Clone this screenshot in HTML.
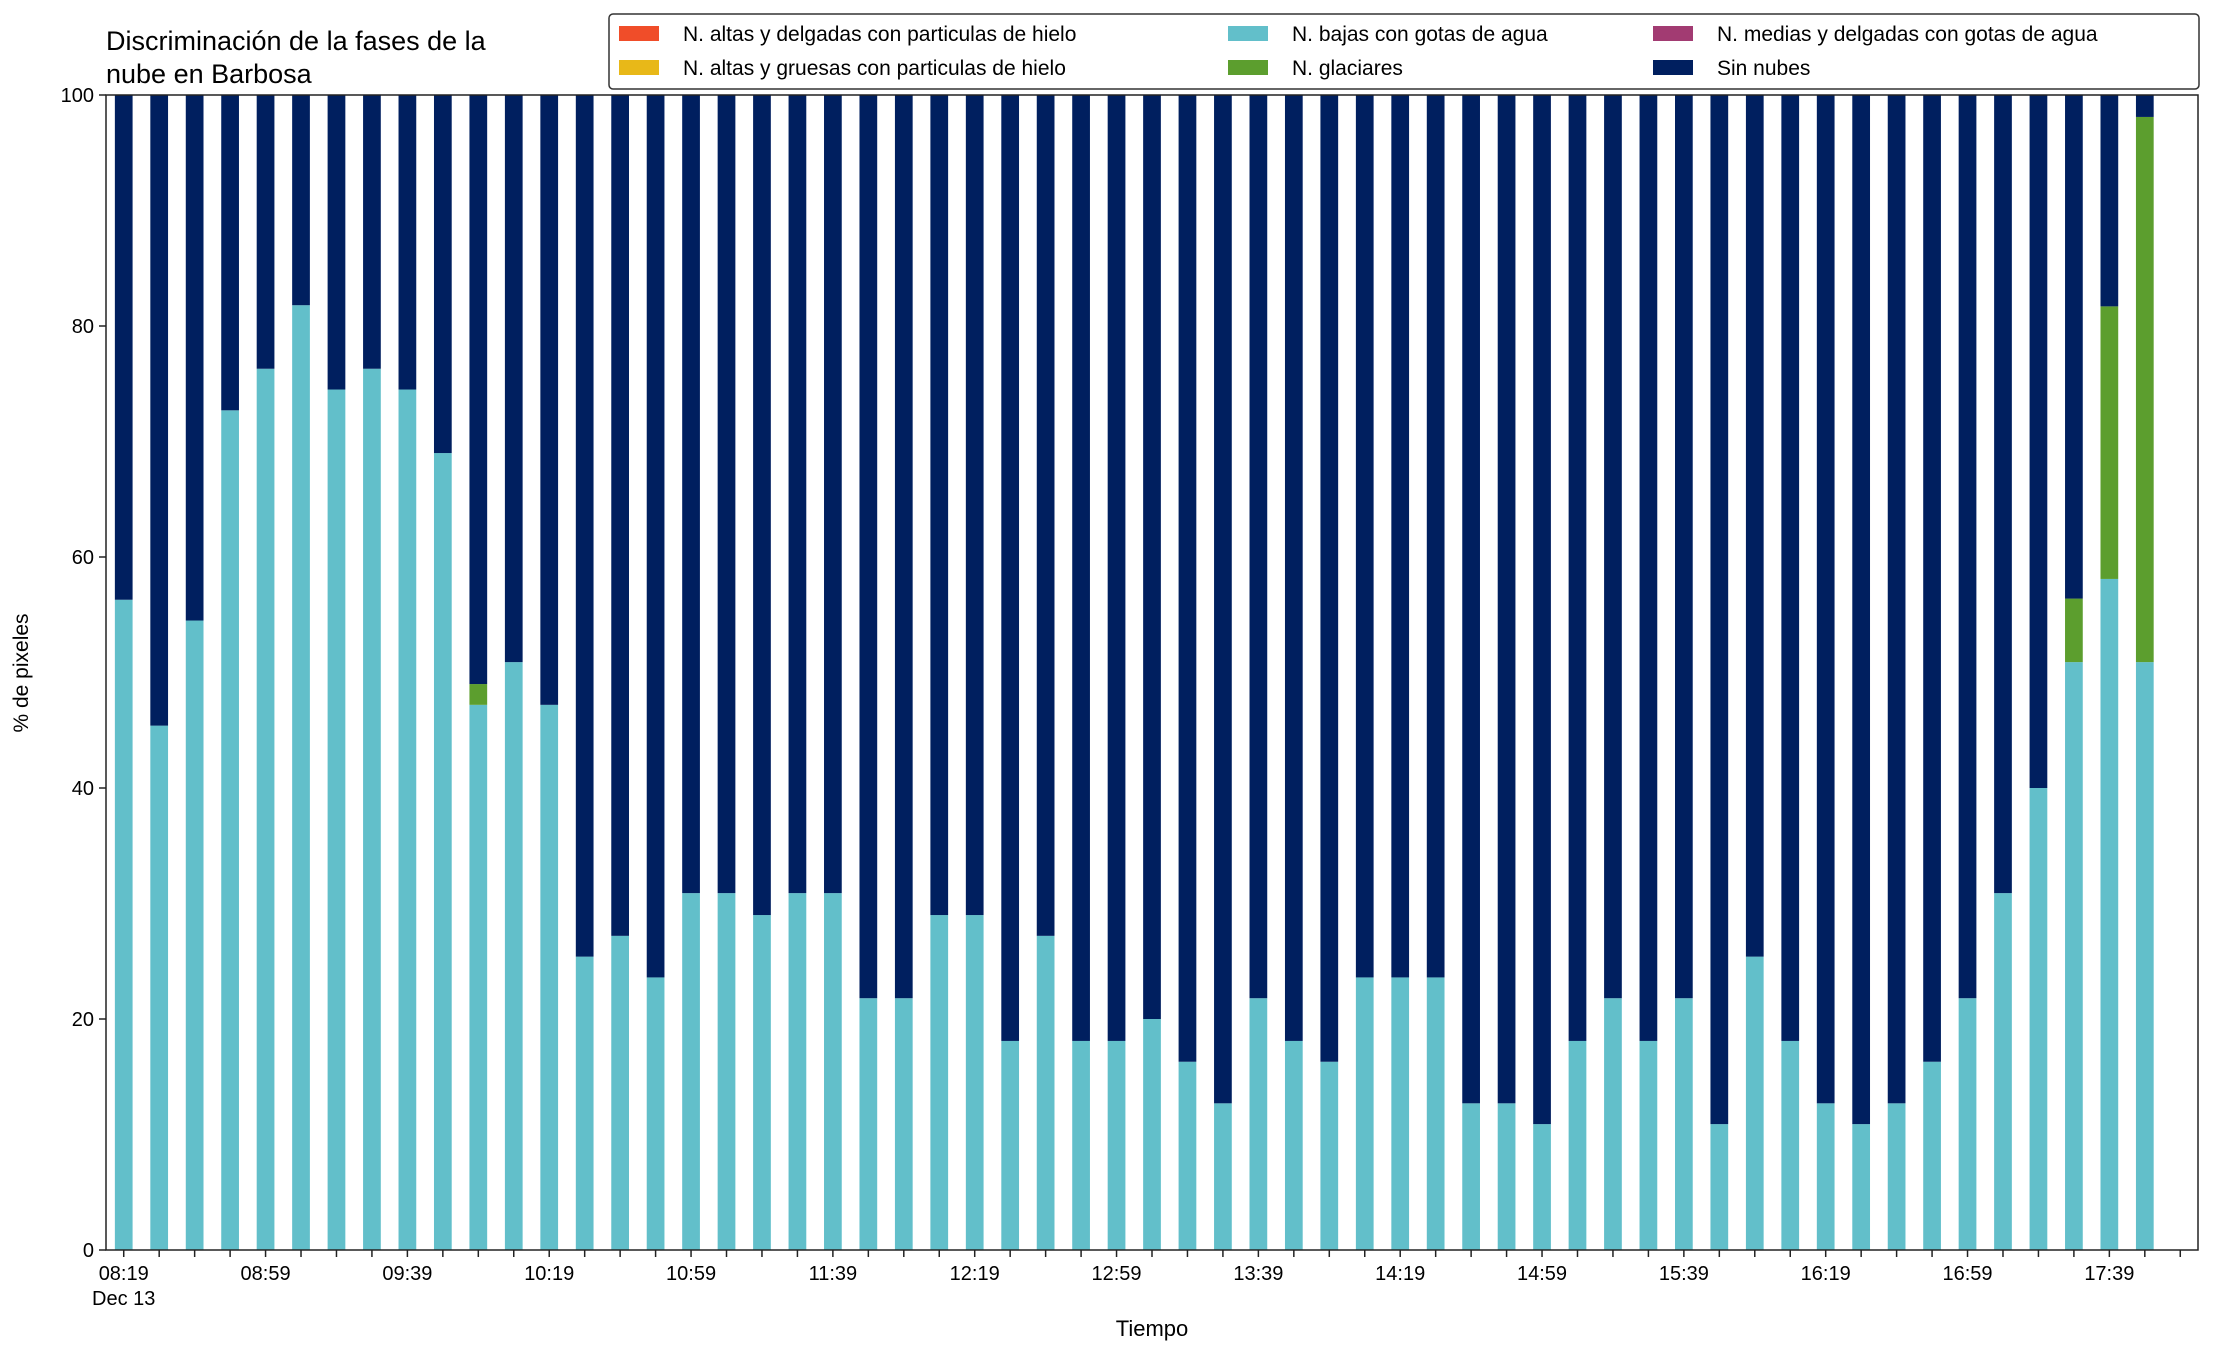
<!DOCTYPE html>
<html><head><meta charset="utf-8"><style>
body{margin:0;background:#fff;}
svg text{font-family:"Liberation Sans","DejaVu Sans",sans-serif;fill:#000;}
</style></head><body>
<svg id="chart" width="2216" height="1355" xmlns="http://www.w3.org/2000/svg">
<text x="106" y="50" font-size="27">Discriminación de la fases de la</text>
<text x="106" y="83" font-size="27">nube en Barbosa</text>
<g id="bars"></g>
<g id="axes"></g>
<text x="28" y="673" font-size="21" text-anchor="middle" transform="rotate(-90 28 673)">% de pixeles</text>
<text x="1152" y="1336" font-size="22" text-anchor="middle">Tiempo</text>
<g id="legend">
<rect x="609" y="14" width="1590" height="75" rx="4" fill="#fff" stroke="#333" stroke-width="1.5"/>
</g>
</svg>
<script>
const labels = ["08:19","08:59","09:39","10:19","10:59","11:39","12:19","12:59","13:39","14:19","14:59","15:39","16:19","16:59","17:39"];
const lowWater = [56.3,45.4,54.5,72.7,76.3,81.8,74.5,76.3,74.5,69.0,47.2,50.9,47.2,25.4,27.2,23.6,30.9,30.9,29.0,30.9,30.9,21.8,21.8,29.0,29.0,18.1,27.2,18.1,18.1,20.0,16.3,12.7,21.8,18.1,16.3,23.6,23.6,23.6,12.7,12.7,10.9,18.1,21.8,18.1,21.8,10.9,25.4,18.1,12.7,10.9,12.7,16.3,21.8,30.9,40.0,50.9,58.1,50.9];
const glacier = [0,0,0,0,0,0,0,0,0,0,1.8,0,0,0,0,0,0,0,0,0,0,0,0,0,0,0,0,0,0,0,0,0,0,0,0,0,0,0,0,0,0,0,0,0,0,0,0,0,0,0,0,0,0,0,0,5.5,23.6,47.2];
const yTicks = [0,20,40,60,80,100];
const NS="http://www.w3.org/2000/svg";
const L=106,R=2198,T=95,B=1250;
const n=lowWater.length;
const xs=i=>L+(i+0.5)*(R-L)/(n+1);
const ys=v=>B-v*(B-T)/100;
const bw=0.5*(R-L)/(n+1);
function mk(tag,attrs,parent){const e=document.createElementNS(NS,tag);for(const k in attrs)e.setAttribute(k,attrs[k]);parent.appendChild(e);return e;}
const bars=document.getElementById('bars'),axes=document.getElementById('axes');
for(let i=0;i<n;i++){
  const a=lowWater[i],g=glacier[i];
  let r=mk('rect',{x:xs(i)-bw/2,y:ys(a),width:bw,height:ys(0)-ys(a),fill:'#62bfca'},bars);
  
  
  if(g>0){r=mk('rect',{x:xs(i)-bw/2,y:ys(a+g),width:bw,height:ys(a)-ys(a+g),fill:'#5c9e2e'},bars);
  
  }
  r=mk('rect',{x:xs(i)-bw/2,y:ys(100),width:bw,height:ys(a+g)-ys(100),fill:'#001f5f'},bars);
  
  
  mk('line',{x1:xs(i),x2:xs(i),y1:B,y2:B+7,stroke:'#222','stroke-width':1.5},axes);
}
mk('line',{x1:xs(n),x2:xs(n),y1:B,y2:B+7,stroke:'#222','stroke-width':1.5},axes);
labels.forEach((s,k)=>{const t=mk('text',{x:xs(k*4),y:1280,'font-size':20,'text-anchor':'middle'},axes);t.textContent=s;

});
const d=mk('text',{x:xs(0),y:1305,'font-size':20,'text-anchor':'middle'},axes);d.textContent='Dec 13';


yTicks.forEach(v=>{mk('line',{x1:L-7,x2:L,y1:ys(v),y2:ys(v),stroke:'#222','stroke-width':1.5},axes);
const t=mk('text',{x:L-12,y:ys(v)+7,'font-size':20,'text-anchor':'end'},axes);t.textContent=v;

});
const fr=mk('rect',{x:L,y:T,width:R-L,height:B-T,fill:'none',stroke:'#222','stroke-width':1.5},axes);


const leg=[["N. altas y delgadas con particulas de hielo","#f04d29",619,34],["N. altas y gruesas con particulas de hielo","#e8b818",619,68],["N. bajas con gotas de agua","#62bfca",1228,34],["N. glaciares","#5c9e2e",1228,68],["N. medias y delgadas con gotas de agua","#a23b72",1653,34],["Sin nubes","#001f5f",1653,68]];
const lg=document.getElementById('legend');
leg.forEach(e=>{mk('rect',{x:e[2],y:e[3]-8,width:40,height:15,fill:e[1]},lg);
const t=mk('text',{x:e[2]+64,y:e[3]+7,'font-size':21},lg);t.textContent=e[0];

});
</script>
</body></html>
